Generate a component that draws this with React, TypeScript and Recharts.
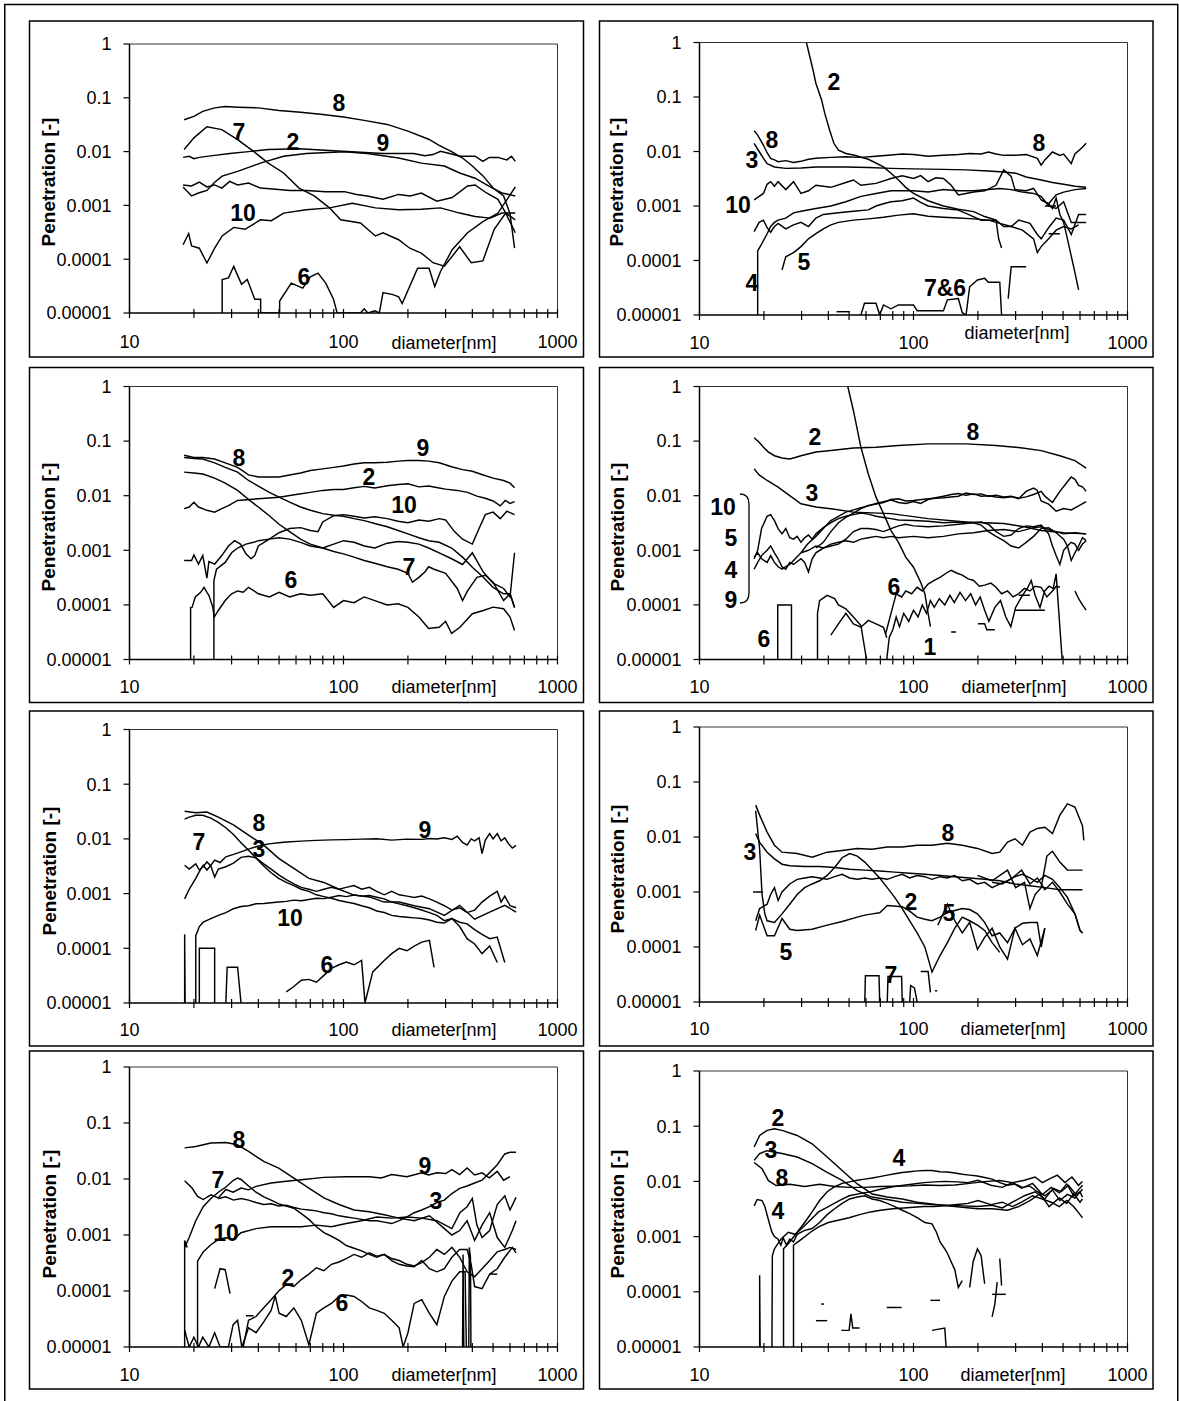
import React from 'react';
import { LineChart, Line, XAxis, YAxis, ReferenceLine } from 'recharts';

type Pair = [number, number];

/* ================= DATA: [diameter nm, penetration] ================= */
// ---------- Panel 1 (row 1, left) ----------
const P1_8: Pair[] = [[18,0.039],[20,0.045],[22,0.056],[25,0.065],[28,0.069],[32,0.067],[40,0.065],[50,0.058],[63,0.054],[80,0.049],[100,0.044],[125,0.038],[160,0.032],[200,0.024],[250,0.017],[280,0.013],[320,0.010],[360,0.0076],[400,0.0054],[450,0.0035],[500,0.0021],[560,0.0015],[600,0.0007],[630,0.00016]];
const P1_7: Pair[] = [[18,0.0109],[20,0.018],[23,0.029],[27,0.0256],[32,0.0167],[38,0.0101],[44.5,0.0061],[52.5,0.004],[62,0.0021],[73,0.0015],[86,0.0009],[97,0.00054],[120,0.00047],[141,0.00027],[153,0.00031],[181,0.00023],[204,0.00016],[231,0.00013],[262,0.000086],[296,0.000074],[349,0.00017],[395,0.000086],[448,0.000093],[506,0.00036],[573,0.00072],[635,0.00054]];
const P1_2: Pair[] = [[17.8,0.0078],[19,0.0082],[20,0.0074],[21.2,0.0078],[25,0.0085],[29.4,0.0092],[36,0.010],[44.5,0.0109],[62,0.0113],[86,0.0105],[120,0.0097],[153,0.0092],[213,0.0092],[240,0.0084],[262,0.0088],[284,0.0101],[320,0.0090],[349,0.0082],[412,0.0082],[448,0.0066],[480,0.0078],[527,0.0078],[580,0.0070],[610,0.0082],[635,0.0066]];
const P1_9: Pair[] = [[17.8,0.0022],[19.5,0.0015],[21,0.0017],[23,0.0019],[25,0.0027],[27.1,0.0035],[32,0.0043],[40.9,0.0061],[52.5,0.0082],[67,0.0092],[101,0.0099],[129,0.0092],[181,0.0076],[231,0.0061],[296,0.0054],[349,0.004],[412,0.0032],[485,0.0022],[550,0.0017],[635,0.0015]];
const P1_3: Pair[] = [[17.8,0.0024],[19.5,0.0023],[21.2,0.0027],[23,0.0022],[25,0.0024],[27,0.0021],[29.4,0.0028],[32,0.0024],[36,0.0026],[40.9,0.0021],[48.3,0.002],[56,0.0019],[67,0.0019],[82.6,0.0018],[101,0.0018],[115,0.0016],[129,0.0015],[153,0.0013],[181,0.0016],[205,0.0015],[231,0.0017],[273,0.0012],[322,0.0014],[380,0.0023],[412,0.0024],[466,0.0017],[527,0.0013],[573,0.00072],[635,0.00031]];
const P1_10: Pair[] = [[17.8,0.000186],[18.9,0.0003],[19.5,0.000176],[21.2,0.00016],[23,0.000085],[25,0.00016],[27.1,0.00027],[30.7,0.00039],[34.7,0.00036],[40.9,0.00054],[46,0.00052],[52.5,0.00072],[67,0.00083],[86,0.0009],[110,0.0011],[141,0.0009],[181,0.00083],[231,0.00085],[284,0.0009],[349,0.00072],[412,0.00062],[485,0.00058],[550,0.00072],[635,0.00072]];
const P1_6: Pair[] = [[27.1,0.00001],[27.1,0.000042],[29,0.000045],[30.7,0.000074],[32,0.00005],[33.4,0.000034],[35.5,0.000042],[38.5,0.000018],[41,0.000018],[41,0.00001],[50.3,0.00001],[50.3,0.0000167],[57,0.000036],[64.5,0.000029],[70,0.000047],[76,0.000055],[82.6,0.000036],[89.8,0.000018],[93.4,0.00001],[120,0.00001],[125,0.000012],[130,0.00001],[140,0.000011],[147,0.00001],[153,0.000024],[170,0.000022],[181,0.00002],[188,0.000015],[222,0.000068],[251,0.000068],[267,0.000031],[284,0.000059],[322,0.00015],[380,0.00031],[448,0.0005],[527,0.00072],[635,0.0022]];

// ---------- Panel 2 (row 1, right) ----------
const P2_2: Pair[] = [[31.6,1],[34,0.3],[35,0.177],[37.2,0.088],[38.5,0.05],[40.5,0.025],[42.5,0.014],[44.6,0.0106],[48.3,0.0092],[52.4,0.0086],[61.5,0.0072],[72.4,0.0052],[78.5,0.004],[85.1,0.003],[92,0.0022],[100,0.0017],[117,0.00125],[138,0.001],[162,0.00087],[191,0.00079],[215,0.00064],[243,0.00055],[250,0.00025],[258,0.00017]];
const P2_8: Pair[] = [[18,0.024],[18.7,0.02],[19.9,0.013],[20.7,0.0095],[21.5,0.0075],[22.4,0.007],[23.3,0.0065],[25.3,0.0068],[27.5,0.0063],[29.8,0.0066],[32.3,0.0072],[35,0.0075],[41.1,0.0078],[48.3,0.008],[56.8,0.0078],[66.8,0.0082],[78.5,0.0086],[88.5,0.009],[100,0.0088],[117,0.0082],[138,0.0085],[162,0.0088],[183,0.0092],[207,0.009],[224,0.0098],[243,0.009],[264,0.0085],[298,0.0085],[336,0.0088],[379,0.0075],[395,0.0056],[411,0.007],[446,0.0098],[483,0.0085],[503,0.009],[546,0.006],[568,0.009],[616,0.012],[641,0.0142]];
const P2_3: Pair[] = [[18,0.0141],[18.7,0.011],[19.9,0.0075],[20.7,0.006],[22.4,0.0052],[25.3,0.0049],[29.8,0.005],[35,0.0052],[48.3,0.0052],[61.5,0.0051],[78.5,0.0049],[100,0.0048],[138,0.0047],[176,0.0046],[224,0.0044],[264,0.0042],[300,0.004],[336,0.0034],[395,0.003],[446,0.0027],[503,0.0025],[568,0.0023],[641,0.0022]];
const P2_10: Pair[] = [[18,0.0013],[19.9,0.0017],[20.7,0.0025],[21.5,0.0028],[22.4,0.0023],[23.3,0.0028],[25.3,0.002],[27.5,0.0028],[29.8,0.0017],[32.3,0.0019],[35,0.0024],[41.1,0.0022],[48.3,0.0027],[52.4,0.003],[56.8,0.0024],[66.8,0.0026],[78.5,0.0032],[88.5,0.0036],[100,0.0032],[108,0.0036],[117,0.0028],[127,0.0033],[138,0.0032],[150,0.0024],[162,0.0016],[176,0.0017],[191,0.0018],[215,0.0019],[243,0.0024],[264,0.0046],[286,0.0035],[298,0.002],[336,0.0019],[364,0.0021],[395,0.0013],[428,0.0011],[464,0.0016],[503,0.0018],[568,0.002],[641,0.0021]];
const P2_D: Pair[] = [[18,0.00034],[19,0.0005],[19.9,0.00055],[20.7,0.0004],[21.5,0.00033],[22.4,0.00042],[23.3,0.00048],[25.3,0.00038],[27.5,0.00045],[29.8,0.0005],[32.3,0.00042],[35,0.0006],[37.9,0.0007],[44.6,0.00075],[52.4,0.0008],[61.5,0.00085],[66.8,0.001],[72.4,0.0011],[78.5,0.0012],[88.5,0.00125],[100,0.0014],[108,0.00116],[117,0.001],[138,0.0009],[162,0.00084],[176,0.00073],[207,0.00055],[224,0.00055],[243,0.00055],[264,0.00042],[286,0.00042],[310,0.00055],[350,0.00048],[379,0.0003],[395,0.00025],[428,0.0004],[464,0.0006],[503,0.00055],[546,0.0003],[591,0.0007],[641,0.0007]];
const P2_4: Pair[] = [[18.7,0.00001],[18.7,0.00015],[19.5,0.0002],[20.7,0.00031],[21.5,0.00042],[22.4,0.0005],[23.3,0.00055],[25.3,0.0006],[27.5,0.00075],[29.8,0.0008],[35,0.0009],[41.1,0.001],[48.3,0.0012],[56.8,0.0015],[66.8,0.0017],[78.5,0.0019],[100,0.0019],[117,0.0018],[138,0.002],[162,0.0019],[191,0.0019],[224,0.002],[253,0.0021],[286,0.002],[323,0.0018],[364,0.0017],[395,0.0015],[428,0.001],[464,0.0009],[503,0.0012],[546,0.0005],[591,0.0005],[641,0.0005]];
const P2_5: Pair[] = [[24.3,0.000067],[25.3,0.000117],[27.5,0.00014],[29.8,0.00018],[32.3,0.00025],[35,0.00031],[37.9,0.00038],[41.1,0.00045],[44.6,0.0005],[52.4,0.00055],[61.5,0.00058],[72.4,0.00062],[85.1,0.00068],[100,0.00072],[117,0.00065],[138,0.00062],[162,0.0006],[191,0.00058],[224,0.00055],[253,0.00048],[286,0.00042],[323,0.00036],[364,0.00025],[379,0.00014],[395,0.00018],[428,0.00025],[464,0.00036],[503,0.00042],[546,0.00038],[591,0.00045]];
const P2_E: Pair[] = [[395,0.0013],[428,0.0011],[446,0.0009],[464,0.0014],[483,0.0007],[503,0.0005],[524,0.00025],[546,0.00012],[568,0.00006],[591,0.000029]];
const P2_DASH1: Pair[] = [[428,0.00031],[483,0.00031]];
const P2_DASH2: Pair[] = [[411,0.001],[464,0.001]];
const P2_DASH3: Pair[] = [[43.7,0.0000115],[50.3,0.0000115]];
const P2_76: Pair[] = [[56.8,0.00001],[59,0.0000164],[66.8,0.0000164],[69.5,0.00001],[72.4,0.0000153],[78.5,0.000013],[85.1,0.0000153],[100,0.0000153],[104,0.000012],[138,0.000012],[144,0.000019],[162,0.00002],[169,0.000011],[176,0.00001],[183,0.000033],[199,0.000044],[215,0.000047],[224,0.00004],[253,0.00004],[258,0.00001]];
const P2_HOOK: Pair[] = [[277,0.00002],[286,0.000077],[336,0.000077]];

// ---------- Panel 3 (row 2, left) ----------
const P3_9: Pair[] = [[18,0.055],[20,0.05],[22,0.05],[25,0.047],[28,0.04],[32,0.033],[36,0.024],[40,0.022],[45,0.022],[50,0.022],[56,0.024],[63,0.026],[70,0.029],[80,0.031],[90,0.033],[100,0.035],[112,0.038],[125,0.04],[140,0.04],[160,0.041],[180,0.043],[200,0.044],[225,0.044],[250,0.043],[280,0.04],[320,0.034],[360,0.03],[400,0.028],[450,0.024],[500,0.021],[560,0.019],[600,0.017],[630,0.014]];
const P3_8: Pair[] = [[18,0.05],[20,0.048],[22,0.047],[25,0.04],[28,0.033],[32,0.027],[36,0.019],[40,0.015],[45,0.0115],[50,0.0094],[56,0.0076],[63,0.0062],[70,0.0054],[80,0.0047],[90,0.0044],[100,0.0042],[112,0.0038],[125,0.0035],[140,0.0031],[160,0.0027],[180,0.0023],[200,0.002],[225,0.0017],[250,0.0015],[280,0.0014],[320,0.0011],[360,0.00075],[400,0.00049],[450,0.00032],[500,0.00021],[560,0.00016],[600,0.00016],[630,0.00009]];
const P3_7: Pair[] = [[18,0.027],[20,0.026],[22,0.025],[25,0.021],[28,0.017],[32,0.0125],[36,0.0085],[40,0.0062],[45,0.0043],[50,0.003],[56,0.0022],[63,0.0016],[70,0.0013],[80,0.0011],[90,0.00095],[100,0.00086],[112,0.00075],[125,0.00065],[140,0.00058],[160,0.0005],[180,0.00045],[200,0.00038],[210,0.00026],[225,0.00032],[240,0.0004],[250,0.0005],[265,0.00045],[300,0.00038],[340,0.0002],[360,0.00012],[380,0.00018],[420,0.00032],[460,0.00035],[500,0.00026],[560,0.00012],[600,0.00016],[630,0.00009]];
const P3_2: Pair[] = [[18,0.0058],[19,0.0062],[20,0.0076],[21,0.0062],[23,0.0054],[25,0.005],[27,0.0058],[29,0.0066],[32,0.0082],[40,0.0088],[50,0.0094],[60,0.0105],[70,0.0115],[80,0.0125],[90,0.013],[100,0.013],[112,0.014],[125,0.0148],[140,0.0138],[160,0.0152],[180,0.016],[200,0.0165],[225,0.0145],[250,0.015],[280,0.0138],[300,0.0132],[340,0.0125],[380,0.0115],[420,0.0098],[460,0.009],[500,0.008],[540,0.0065],[570,0.0082],[600,0.0072],[630,0.0078]];
const P3_10: Pair[] = [[18,0.00065],[19.5,0.00065],[20,0.00082],[21,0.00056],[22,0.0008],[23,0.00031],[23.5,0.00062],[25,0.00056],[27,0.0008],[29,0.0012],[31,0.0015],[33,0.0013],[35,0.00086],[37,0.0007],[38.5,0.0008],[40,0.0012],[45,0.0016],[50,0.0021],[56,0.0025],[63,0.0026],[70,0.0023],[76,0.0022],[80,0.0033],[90,0.0043],[100,0.0045],[112,0.0042],[125,0.0039],[140,0.0041],[160,0.0038],[180,0.0034],[200,0.0032],[225,0.0036],[250,0.0034],[280,0.0038],[300,0.0036],[330,0.0022],[360,0.0016],[400,0.0013],[430,0.0025],[460,0.0045],[500,0.005],[540,0.0038],[580,0.0052],[630,0.0045]];
const P3_X: Pair[] = [[24.8,0.00001],[24.8,0.00028],[25.5,0.00045],[28,0.0006],[30,0.0009],[32,0.0011],[35,0.0013],[38,0.0014],[40,0.0015],[45,0.0016],[50,0.0017],[56,0.0016],[63,0.0014],[70,0.0012],[80,0.0011],[90,0.0013],[100,0.0015],[112,0.0014],[125,0.0012],[140,0.0011],[160,0.00135],[180,0.00145],[200,0.0014],[225,0.0013],[250,0.0011],[280,0.0009],[320,0.0007],[360,0.00055],[400,0.0009],[450,0.0004],[500,0.00025],[560,0.0002],[600,0.00014],[630,0.0009]];
const P3_6: Pair[] = [[19.3,0.00001],[19.3,0.00009],[19.6,0.00009],[20.3,0.00014],[21.5,0.00017],[22.3,0.00021],[23,0.00017],[23.5,0.00015],[24.5,0.00009],[24.9,0.00006],[26,0.000079],[28,0.00012],[30,0.00016],[32,0.00018],[34,0.00017],[36,0.00021],[40,0.00016],[45,0.00014],[50,0.00017],[56,0.00014],[63,0.00016],[70,0.00015],[80,0.00016],[90,0.00009],[100,0.00012],[112,0.00011],[125,0.00014],[140,0.00012],[160,0.0001],[180,0.000105],[200,0.00009],[225,0.00006],[250,0.000037],[280,0.000039],[300,0.00005],[320,0.00003],[350,0.000039],[400,0.000069],[450,0.000079],[500,0.000091],[560,0.000085],[600,0.00006],[630,0.000034]];

// ---------- Panel 4 (row 2, right) ----------
const P4_28: Pair[] = [[18,0.115],[19,0.095],[19.9,0.077],[21,0.063],[22.4,0.054],[24.3,0.049],[26.4,0.047],[28,0.05],[29.8,0.054],[35,0.063],[41.1,0.067],[52.4,0.075],[66.8,0.077],[85.1,0.083],[117,0.089],[176,0.089],[243,0.083],[323,0.075],[395,0.067],[483,0.054],[568,0.044],[641,0.032]];
const P4_STEEP: Pair[] = [[49.3,1],[52.4,0.36],[56.8,0.077],[61.5,0.025],[66.8,0.0094],[72.4,0.0047],[78.5,0.0023],[85.1,0.0014],[92,0.00075],[100,0.00049],[108,0.00026],[113,0.00016],[117,0.00007],[120,0.00004]];
const P4_3: Pair[] = [[18,0.031],[19,0.024],[20.7,0.019],[23.3,0.0144],[26.4,0.01],[29.8,0.0071],[35,0.0062],[42,0.0057],[52.4,0.005],[78.5,0.0047],[117,0.0038],[176,0.0033],[264,0.0031],[330,0.0027],[395,0.0023],[503,0.0021],[641,0.002]];
const P4_A: Pair[] = [[29.8,0.0009],[32,0.0013],[35,0.0018],[37.9,0.0025],[41.1,0.0035],[44.6,0.0042],[48.3,0.005],[52.4,0.0055],[56.8,0.006],[61.5,0.0065],[66.8,0.0072],[72.4,0.0078],[78.5,0.0083],[85.1,0.0075],[92,0.0072],[100,0.0078],[108,0.0072],[117,0.0085],[127,0.0092],[138,0.0098],[150,0.0105],[162,0.011],[176,0.0102],[191,0.0108],[207,0.0098],[224,0.01],[243,0.0095],[264,0.0092],[286,0.0096],[310,0.0088],[336,0.012],[364,0.0138],[379,0.0125],[395,0.008],[428,0.007],[464,0.0052],[503,0.0058],[546,0.0055],[591,0.0065],[641,0.0078]];
const P4_B: Pair[] = [[35,0.0011],[37.9,0.0014],[41.1,0.0022],[44.6,0.0032],[48.3,0.004],[52.4,0.0048],[56.8,0.0058],[61.5,0.0066],[66.8,0.007],[72.4,0.0075],[78.5,0.0085],[85.1,0.0088],[92,0.008],[100,0.0082],[117,0.0088],[138,0.0092],[162,0.0098],[176,0.0112],[191,0.0105],[207,0.0108],[224,0.0098],[243,0.0102],[264,0.0095],[286,0.0098],[310,0.009],[336,0.0095],[364,0.0105],[395,0.012],[411,0.0098],[446,0.0075],[483,0.012],[524,0.018],[546,0.022],[568,0.02],[591,0.0155],[616,0.0145],[641,0.012]];
const P4_C: Pair[] = [[18,0.0007],[18.7,0.001],[19.5,0.0025],[20.7,0.0042],[21.5,0.0045],[22.4,0.0035],[23.3,0.0025],[24.3,0.002],[25.3,0.0025],[26.4,0.0017],[27.5,0.0016],[28.6,0.0018],[29.8,0.0014],[31,0.0017],[32.3,0.0019],[33.6,0.0016],[35,0.002],[37.9,0.0026],[41.1,0.0032],[44.6,0.0038],[48.3,0.0042],[52.4,0.0045],[56.8,0.0048],[61.5,0.0046],[66.8,0.0042],[72.4,0.004],[78.5,0.0038],[85.1,0.0036],[100,0.0035],[117,0.0034],[138,0.0032],[162,0.0033],[191,0.0032],[207,0.0029],[224,0.0022],[243,0.0018],[264,0.0015],[286,0.0012],[310,0.0011],[336,0.0014],[364,0.0018],[395,0.0025],[428,0.0026],[464,0.0021],[503,0.0016],[524,0.0012],[546,0.00065],[568,0.0009],[591,0.0012],[616,0.0017],[641,0.0015]];
const P4_D: Pair[] = [[18,0.00045],[18.7,0.0006],[19.5,0.0008],[20.7,0.001],[21.5,0.0012],[22.4,0.0009],[23.3,0.0007],[24.3,0.0005],[25.3,0.00045],[26.4,0.0006],[27.5,0.00055],[29.8,0.0007],[31,0.0006],[32.3,0.0004],[33.6,0.0007],[35,0.0009],[37.9,0.0011],[41.1,0.0012],[44.6,0.0013],[48.3,0.0016],[52.4,0.0022],[56.8,0.0025],[61.5,0.0025],[66.8,0.0024],[72.4,0.0022],[78.5,0.0025],[85.1,0.0028],[92,0.003],[100,0.0028],[117,0.0027],[138,0.0028],[162,0.003],[191,0.0032],[207,0.0033],[224,0.003],[243,0.0022],[264,0.0018],[286,0.0019],[310,0.0025],[336,0.0028],[364,0.0027],[395,0.0029],[428,0.002],[446,0.0012],[464,0.0008],[483,0.00055],[503,0.001],[524,0.0012],[546,0.0014],[568,0.0013],[591,0.001],[616,0.0013],[641,0.0015]];
const P4_E: Pair[] = [[18,0.00075],[18.7,0.0009],[19.5,0.0007],[20.7,0.0006],[21.5,0.0008],[22.4,0.0006],[23.3,0.0005],[24.3,0.00045],[25.3,0.0005],[26.4,0.00055],[27.5,0.00065],[29.8,0.0009],[32.3,0.001],[35,0.0012],[37.9,0.0011],[41.1,0.0013],[44.6,0.0014],[48.3,0.0015],[52.4,0.0014],[56.8,0.0016],[61.5,0.0017],[66.8,0.0018],[72.4,0.0017],[78.5,0.0018],[85.1,0.0017],[100,0.0018],[117,0.0017],[138,0.0018],[162,0.002],[191,0.0021],[224,0.0023],[264,0.0024],[310,0.0022],[364,0.0026],[395,0.0027],[428,0.0024],[464,0.0022],[503,0.002],[568,0.0021],[641,0.002]];
const P4_RECT: Pair[] = [[23.2,0.00001],[23.2,0.0001],[26.9,0.0001],[26.9,0.00001]];
const P4_LB: Pair[] = [[35.6,0.00001],[35.6,0.00007],[36.4,0.00012],[39.5,0.00015],[42.8,0.00013],[44.6,0.0001],[48.3,0.000085],[52.4,0.00006],[56.8,0.000042],[60.3,0.00001]];
const P4_LC: Pair[] = [[41.1,0.000028],[44.6,0.000045],[48.3,0.00007],[52.4,0.000045],[56.8,0.000039],[61.5,0.000052],[66.8,0.000045],[72.4,0.000039],[75,0.000025]];
const P4_6: Pair[] = [[74,0.000029],[78.5,0.00007],[83,0.00016],[88,0.00014],[92,0.00018],[98,0.00016],[104,0.00021],[110,0.00018],[117,0.00024],[125,0.00028],[133,0.00032],[142,0.00038],[150,0.00043],[160,0.00038],[169,0.00035],[180,0.0003],[191,0.00028],[203,0.00022],[215,0.00023],[230,0.00025],[243,0.00021],[258,0.00016],[275,0.00018],[292,0.00014],[310,0.00016],[330,0.0002],[350,0.00018],[370,0.00022],[395,0.00021],[420,0.00014],[446,0.00018],[465,0.00022],[483,0.00021]];
const P4_1: Pair[] = [[75,0.00001],[77,0.000025],[80,0.000035],[83,0.00006],[86,0.00004],[90,0.00007],[95,0.00005],[100,0.00008],[105,0.00006],[110,0.0001],[115,0.00007],[120,0.00012],[125,0.00009],[132,0.00013],[140,0.0001],[148,0.00015],[155,0.00011],[165,0.00017],[175,0.00012],[185,0.00016],[195,0.0001],[205,0.00014],[215,0.00008],[225,0.00005],[240,0.00009],[255,0.00012],[270,0.00006],[285,0.00004],[300,0.00009],[320,0.00014],[340,0.0002],[355,0.00028],[370,0.00015],[390,0.00009],[410,0.00018],[430,0.00022],[450,0.0002],[464,0.00037],[495,0.00001]];
const P4_DASH1: Pair[] = [[310,0.00015],[350,0.00015]];
const P4_DASH2: Pair[] = [[298,0.00008],[411,0.00008]];
const P4_DASH3: Pair[] = [[200,0.000045],[215,0.000045],[220,0.000035],[240,0.000035]];
const P4_DASH4: Pair[] = [[150,0.000032],[158,0.000032]];
const P4_TAIL: Pair[] = [[568,0.00018],[591,0.00013],[616,0.0001],[641,0.00008]];

// ---------- Panel 5 (row 3, left) ----------
const P5_8: Pair[] = [[18.1,0.032],[20.4,0.03],[23,0.031],[26,0.025],[30.6,0.018],[36,0.0117],[42.4,0.0077],[49.8,0.0044],[58.6,0.0029],[68.9,0.0019],[81,0.0016],[95.3,0.0012],[112,0.00094],[132,0.00087],[155,0.0007],[182,0.0007],[214,0.0006],[252,0.00053],[296,0.0004],[349,0.00061],[410,0.00034],[482,0.00046],[567,0.00061],[640,0.00046]];
const P5_7: Pair[] = [[18.1,0.023],[19,0.025],[20.4,0.027],[22,0.027],[24,0.024],[26,0.02],[28.2,0.016],[30.6,0.012],[33.2,0.0085],[36,0.0062],[39,0.0045],[42.4,0.0032],[45.9,0.0024],[49.8,0.0019],[54,0.0016],[58.6,0.0014],[63.5,0.0012],[68.9,0.0011],[74.7,0.00095],[81,0.00088],[87.8,0.00082],[95.3,0.00075],[103,0.0007],[112,0.00066],[121.5,0.0006],[132,0.00055],[143,0.00048],[155,0.00045],[168,0.0004],[182,0.00038],[198,0.00037],[214,0.00036],[232,0.00035],[252,0.00033],[273,0.0003],[296,0.00029],[321,0.00035],[349,0.00025],[378,0.00015],[410,0.00012],[444,0.00008],[482,0.00011],[523,0.000055]];
const P5_9: Pair[] = [[18.1,0.0008],[19,0.0012],[20.4,0.0019],[21.5,0.0028],[22.1,0.0033],[23,0.0027],[24,0.0033],[25,0.0041],[26.5,0.0037],[28.2,0.0047],[30.6,0.0052],[33.2,0.0058],[36,0.0065],[39,0.0072],[42.4,0.0078],[45.9,0.0082],[49.8,0.0085],[54,0.0088],[63.5,0.0091],[74.7,0.0094],[87.8,0.0096],[103,0.0097],[121.5,0.0099],[143,0.0101],[168,0.0095],[198,0.0099],[232,0.0098],[252,0.0102],[273,0.01],[296,0.0105],[321,0.0098],[340,0.0112],[360,0.0086],[378,0.0077],[395,0.01],[410,0.0092],[430,0.0105],[444,0.0054],[460,0.0095],[482,0.0125],[500,0.01],[523,0.0125],[545,0.0092],[567,0.0105],[590,0.0082],[615,0.0068],[640,0.0076]];
const P5_3: Pair[] = [[18.1,0.0033],[19,0.0028],[20.4,0.0035],[21.2,0.0027],[22.1,0.0031],[23,0.0038],[24,0.0032],[25,0.002],[26,0.0028],[28.2,0.0031],[30.6,0.0036],[33.2,0.0046],[36,0.0048],[39,0.0045],[42.4,0.0035],[45.9,0.0028],[49.8,0.0022],[54,0.0018],[58.6,0.0015],[63.5,0.0013],[68.9,0.0012],[74.7,0.0011],[81,0.0012],[87.8,0.0013],[95.3,0.0012],[103,0.0013],[112,0.0014],[121.5,0.0012],[132,0.0013],[143,0.0011],[155,0.00095],[168,0.0011],[182,0.00095],[198,0.0009],[214,0.00085],[232,0.0009],[252,0.0008],[273,0.0007],[296,0.0006],[321,0.0005],[349,0.00055],[378,0.00045],[410,0.0005],[444,0.0007],[482,0.0009],[523,0.0011],[545,0.0007],[567,0.0009],[600,0.0006],[640,0.00055]];
const P5_10: Pair[] = [[20.4,0.00001],[20.4,0.00017],[21.2,0.00025],[22.1,0.0003],[24,0.00035],[26,0.0004],[28.2,0.00045],[30.6,0.00053],[33.2,0.00058],[36,0.0006],[39,0.00065],[42.4,0.00066],[45.9,0.00068],[49.8,0.0007],[54,0.00072],[58.6,0.00076],[63.5,0.00074],[68.9,0.00078],[74.7,0.00082],[81,0.00081],[87.8,0.00086],[95.3,0.00092],[103,0.00088],[112,0.00094],[121.5,0.0009],[132,0.00092],[143,0.00086],[155,0.0008],[168,0.0007],[182,0.00065],[198,0.0006],[214,0.00055],[232,0.0005],[252,0.00045],[273,0.0004],[296,0.00032],[321,0.00035],[349,0.0003],[378,0.00028],[410,0.00022],[444,0.00018],[482,0.00015],[523,0.00016],[567,0.000055]];
const P5_SPIKE: Pair[] = [[18.1,0.00001],[18.1,0.00018],[18.2,0.00001]];
const P5_RECT: Pair[] = [[21.2,0.00001],[21.2,0.0001],[25,0.0001],[25,0.00001]];
const P5_HUMP: Pair[] = [[28.2,0.00001],[28.6,0.000045],[32,0.000045],[33.2,0.00001]];
const P5_6: Pair[] = [[54,0.000016],[58.6,0.00002],[63.5,0.000026],[68.9,0.000027],[74.7,0.000024],[81,0.000032],[87.8,0.000043],[95.3,0.00005],[103,0.000056],[112,0.00005],[121.5,0.00006],[126,0.00001],[137,0.000037],[155,0.00006],[168,0.00008],[182,0.0001],[198,0.00009],[214,0.00011],[232,0.00013],[252,0.00014],[265,0.000045]];

// ---------- Panel 6 (row 3, right) ----------
const P6_8: Pair[] = [[18.3,0.038],[19.1,0.025],[20.7,0.0123],[22.4,0.0071],[24.3,0.0053],[28.6,0.005],[33.6,0.0043],[39.5,0.0053],[46.4,0.0057],[54.6,0.0062],[64.1,0.006],[75.4,0.0066],[88.6,0.0066],[104,0.0071],[122,0.0071],[144,0.0077],[169,0.0071],[199,0.0062],[233,0.005],[253,0.0053],[275,0.0081],[298,0.0093],[323,0.0071],[350,0.0123],[379,0.0143],[411,0.015],[446,0.0115],[483,0.025],[524,0.04],[568,0.035],[616,0.016],[625,0.0087]];
const P6_3: Pair[] = [[18.3,0.0115],[19.1,0.008],[20.7,0.0053],[22.4,0.004],[24.3,0.0032],[26.4,0.003],[31,0.0029],[36.4,0.0029],[42.8,0.0028],[50.3,0.0026],[59.2,0.0025],[69.5,0.0024],[81.7,0.0023],[96,0.0022],[113,0.0021],[133,0.002],[156,0.0019],[183,0.0018],[215,0.0017],[253,0.0016],[298,0.0014],[350,0.0013],[411,0.0012],[483,0.0011],[568,0.0011],[616,0.0011]];
const P6_2: Pair[] = [[18.3,0.03],[19.1,0.006],[19.6,0.0009],[20.2,0.0004],[20.7,0.0003],[22.4,0.00028],[24.3,0.0004],[26.4,0.0006],[28.6,0.0009],[31,0.0012],[33.6,0.0014],[36.4,0.0016],[39.5,0.002],[42.8,0.0028],[46.4,0.0042],[50.3,0.005],[54.6,0.0045],[59.2,0.0035],[64.1,0.0025],[69.5,0.0018],[75.4,0.0012],[81.7,0.0008],[88.6,0.0005],[96,0.0003],[104,0.00018],[113,0.0001],[122,0.000035],[133,0.00007],[144,0.00012],[156,0.00022],[169,0.00035],[183,0.0003],[199,0.00025],[215,0.0002],[233,0.00012],[253,0.00008]];
const P6_5A: Pair[] = [[18.3,0.0003],[19.1,0.0005],[20.7,0.0006],[21.5,0.0009],[22.4,0.0012],[23.3,0.0007],[24.3,0.001],[26.4,0.0014],[28.6,0.0017],[31,0.0018],[33.6,0.0019],[36.4,0.0018],[39.5,0.0017],[42.8,0.0019],[46.4,0.0021],[50.3,0.0018],[54.6,0.0017],[59.2,0.0018],[64.1,0.0017],[69.5,0.0018],[75.4,0.0017],[81.7,0.0019],[88.6,0.0021],[96,0.0018],[104,0.002],[113,0.0019],[122,0.0017],[133,0.0019],[144,0.0018],[156,0.002],[169,0.0016],[183,0.0017],[199,0.0014],[215,0.0015],[233,0.0012],[253,0.0014],[275,0.0016],[298,0.0019],[323,0.0021],[350,0.0018],[379,0.0015],[411,0.002],[446,0.0017],[483,0.0012],[524,0.0008],[568,0.0004],[600,0.0002],[616,0.00018]];
const P6_5B: Pair[] = [[18.3,0.0002],[19.1,0.00038],[20.7,0.00016],[22.4,0.00016],[24.3,0.00033],[26.4,0.00021],[28.6,0.0002],[33.6,0.00021],[39.5,0.00025],[46.4,0.00029],[54.6,0.00035],[59.2,0.00038],[64.1,0.0004],[69.5,0.00042],[75.4,0.00057],[88.6,0.00054],[96,0.00045],[104,0.00035],[113,0.00032],[122,0.0003],[133,0.00035],[144,0.00042],[156,0.00046],[169,0.0005],[183,0.00048],[199,0.0004],[215,0.00028],[233,0.00016],[253,0.00018],[275,0.00012],[298,0.00022],[323,0.00027],[350,0.00028],[379,0.00028],[395,0.0001],[411,0.00022]];
const P6_T1: Pair[] = [[199,0.002],[233,0.0016],[275,0.0025],[300,0.0012],[330,0.0015],[350,0.0005],[370,0.0009],[395,0.0012],[420,0.0045],[446,0.0055],[483,0.0035],[524,0.0025],[568,0.0025],[616,0.0025]];
const P6_T2: Pair[] = [[233,0.0015],[260,0.0014],[290,0.0018],[320,0.0025],[350,0.0014],[379,0.0018],[411,0.0011],[446,0.0015],[483,0.001],[524,0.0006],[568,0.0004],[600,0.0002],[616,0.00018]];
const P6_T3: Pair[] = [[130,0.00025],[144,0.0006],[156,0.0003],[169,0.00018],[183,0.00028],[199,0.00009],[215,0.00015],[233,0.00022],[253,0.0001],[275,0.00006],[298,0.00022],[323,0.00011],[350,0.00014],[379,0.00007],[411,0.00022]];
const P6_DASH: Pair[] = [[17.8,0.001],[19.8,0.001]];
const P6_7A: Pair[] = [[59.2,0.00001],[59.6,0.00003],[69,0.00003],[69.5,0.00001]];
const P6_7B: Pair[] = [[75.4,0.00001],[76,0.000029],[88,0.000029],[88.6,0.00001]];
const P6_7C: Pair[] = [[96,0.00001],[97,0.00002],[101,0.000018],[104,0.00001]];
const P6_7D: Pair[] = [[108,0.000036],[117,0.000036],[120,0.000015]];
const P6_7E: Pair[] = [[126,0.000016],[129,0.000016]];

// ---------- Panel 7 (row 4, left) ----------
const P7_8: Pair[] = [[18.1,0.036],[20.4,0.038],[24,0.044],[28.2,0.045],[31.9,0.041],[36,0.031],[42.4,0.0206],[49.8,0.0157],[58.6,0.0104],[68.9,0.0069],[81,0.0046],[95.3,0.0035],[112,0.0028],[132,0.0026],[155,0.0023],[182,0.002],[214,0.0018],[252,0.0022],[296,0.0013],[321,0.001],[349,0.0012],[378,0.0018],[410,0.0008],[444,0.0015],[482,0.0025],[523,0.0009],[567,0.0006],[615,0.0012],[640,0.0018]];
const P7_9: Pair[] = [[18.1,0.0093],[19.6,0.0069],[20.8,0.0049],[22.1,0.0043],[24,0.0052],[26,0.0046],[28.2,0.0065],[30.5,0.0058],[33.2,0.0069],[36,0.0064],[39,0.0074],[45.9,0.0085],[54,0.0091],[63.5,0.0097],[81,0.0107],[103,0.011],[132,0.011],[150,0.0104],[168,0.012],[198,0.011],[232,0.0129],[250,0.0118],[273,0.0129],[300,0.0125],[321,0.0147],[349,0.012],[378,0.0157],[410,0.0118],[444,0.0129],[480,0.0105],[523,0.0137],[560,0.0095],[600,0.011]];
const P7_7: Pair[] = [[18.1,0.0006],[19,0.0009],[20.4,0.0018],[22.1,0.0032],[24,0.0045],[26,0.0058],[28.2,0.0072],[30.6,0.0095],[32,0.0104],[33.2,0.0098],[36,0.0075],[39,0.0058],[42.4,0.0048],[45.9,0.0042],[49.8,0.0036],[54,0.0033],[58.6,0.003],[63.5,0.0024],[68.9,0.0019],[74.7,0.0014],[81,0.0011],[87.8,0.00095],[95.3,0.0008],[103,0.00065],[112,0.00058],[121.5,0.00052],[132,0.00045],[143,0.0004],[155,0.00045],[168,0.00035],[182,0.0003],[198,0.00028],[214,0.00027],[232,0.00035],[252,0.00025],[273,0.00022],[296,0.00025],[321,0.0004],[349,0.00055],[378,0.00055],[395,0.0003],[410,0.00012],[444,0.00011],[482,0.0002],[523,0.00025],[567,0.0004],[615,0.0006],[640,0.00048]];
const P7_10: Pair[] = [[20.8,0.00001],[20.8,0.00034],[22.1,0.0005],[24,0.00067],[26,0.00083],[28.2,0.00089],[30.6,0.00083],[33.2,0.0011],[39,0.0013],[45.9,0.0014],[54,0.0014],[63.5,0.0014],[74.7,0.0015],[87.8,0.0014],[103,0.0016],[121.5,0.0018],[143,0.0021],[168,0.002],[198,0.0021],[232,0.002],[273,0.0018],[321,0.0013],[350,0.0025],[378,0.0032],[400,0.0045],[420,0.0015],[444,0.0009],[482,0.0012],[523,0.0035],[567,0.005],[600,0.0028],[640,0.0047]];
const P7_3: Pair[] = [[26,0.0045],[28.2,0.0048],[30.6,0.0042],[33.2,0.0045],[36,0.0042],[39,0.0038],[42.4,0.0035],[45.9,0.0036],[49.8,0.0033],[54,0.0034],[58.6,0.0031],[63.5,0.0029],[68.9,0.0028],[74.7,0.0027],[81,0.0025],[87.8,0.0024],[95.3,0.0022],[103,0.0021],[112,0.002],[121.5,0.0019],[132,0.0018],[143,0.0018],[155,0.0017],[168,0.0016],[182,0.0018],[198,0.0021],[214,0.0025],[232,0.0028],[252,0.0032],[273,0.0038],[296,0.0042],[321,0.0055],[349,0.0068],[378,0.0075],[410,0.0085],[444,0.0095],[482,0.013],[523,0.018],[567,0.028],[600,0.03],[640,0.03]];
const P7_2: Pair[] = [[34,0.00001],[36,0.00003],[39,0.000035],[42.4,0.00005],[45.9,0.00007],[49.8,0.0001],[54,0.00013],[58.6,0.00012],[63.5,0.00016],[68.9,0.0002],[74.7,0.00026],[81,0.00023],[87.8,0.0003],[95.3,0.00033],[103,0.00038],[112,0.00045],[121.5,0.0004],[132,0.00048],[143,0.00042],[155,0.00045],[168,0.00038],[182,0.00035],[198,0.0003],[214,0.00028],[232,0.00032],[252,0.0004],[273,0.00055],[296,0.00045],[321,0.0006],[349,0.0004],[378,0.00022],[410,0.00018],[444,0.00025],[482,0.00035],[523,0.0005],[567,0.00055],[600,0.0006],[640,0.00055]];
const P7_6: Pair[] = [[18.1,0.00002],[19,0.00001],[20,0.000015],[21,0.00001],[22,0.000015],[23.5,0.00001],[25,0.000018],[26.5,0.00001],[29,0.00001],[30.5,0.000025],[32,0.00003],[33.5,0.00001],[36,0.000022],[39,0.000018],[42.4,0.000028],[45.9,0.000045],[48,0.000082],[50,0.00004],[54,0.000035],[58.6,0.00005],[63.5,0.00003],[68.9,0.000011],[74.7,0.00004],[81,0.00005],[87.8,0.00006],[95.3,0.00008],[103,0.000085],[112,0.00008],[121.5,0.000065],[132,0.00005],[143,0.000045],[155,0.00004],[168,0.00003],[182,0.000022],[190,0.00001],[200,0.000018],[214,0.00006],[232,0.00007],[252,0.00004],[273,0.000025],[296,0.00008],[321,0.00015],[349,0.00022],[370,0.00022],[375,0.00001]];
const P7_V1: Pair[] = [[18.1,0.00001],[18.1,0.0008],[18.6,0.0006]];
const P7_V2: Pair[] = [[360,0.00001],[362,0.00045],[365,0.00001]];
const P7_V3: Pair[] = [[385,0.00001],[387,0.0006],[392,0.0004],[394,0.00001]];
const P7_H: Pair[] = [[25,0.00011],[26.5,0.00025],[28,0.00024],[29.5,0.00009]];
const P7_DASH1: Pair[] = [[35,0.000036],[38,0.000036]];
const P7_DASH2: Pair[] = [[482,0.0002],[523,0.0002]];

// ---------- Panel 8 (row 4, right) ----------
const P8_2: Pair[] = [[18,0.042],[19.1,0.068],[20.7,0.084],[22.4,0.09],[24.3,0.084],[28.6,0.068],[33.6,0.048],[39.5,0.0276],[46.4,0.0158],[50.3,0.0119],[54.6,0.009],[59.2,0.0073],[64.1,0.0059],[75.4,0.0052],[88.6,0.0048],[104,0.0042],[122,0.0039],[144,0.0036],[169,0.0034],[199,0.0032],[233,0.0032],[275,0.003],[310,0.0035],[350,0.0045],[390,0.006],[430,0.0035],[480,0.005],[520,0.004],[560,0.006],[600,0.0042],[616,0.0048]];
const P8_3: Pair[] = [[18,0.024],[19.1,0.032],[20.7,0.036],[24.3,0.032],[28.6,0.0276],[33.6,0.021],[39.5,0.0146],[46.4,0.0104],[54.6,0.0068],[64.1,0.0052],[75.4,0.0047],[88.6,0.0042],[104,0.004],[122,0.0038],[144,0.0037],[169,0.0036],[199,0.0035],[233,0.0037],[260,0.0033],[290,0.0042],[330,0.0055],[370,0.0065],[410,0.0048],[450,0.0075],[490,0.0065],[530,0.0085],[570,0.006],[616,0.0085]];
const P8_8: Pair[] = [[18,0.022],[19.6,0.017],[21,0.0103],[22.8,0.0084],[26.4,0.0089],[31,0.0081],[36.4,0.0089],[42.8,0.0081],[50.3,0.0078],[59.2,0.0078],[69.5,0.0081],[81.7,0.0082],[96,0.0083],[113,0.0086],[133,0.0084],[156,0.0086],[183,0.0092],[215,0.0099],[253,0.0104],[290,0.0095],[330,0.0105],[370,0.012],[400,0.0095],[430,0.011],[470,0.013],[510,0.0095],[550,0.012],[590,0.0085],[616,0.01]];
const P8_4UP: Pair[] = [[24.7,0.00001],[24.7,0.0006],[26.4,0.0008],[28.6,0.0012],[31,0.0018],[33.6,0.0028],[36.4,0.0045],[39.5,0.0065],[42.8,0.008],[46.4,0.0092],[50.3,0.0098],[54.6,0.0105],[59.2,0.011],[64.1,0.0115],[69.5,0.0122],[75.4,0.013],[81.7,0.0138],[88.6,0.0145],[96,0.015],[104,0.0155],[113,0.0158],[122,0.0157],[133,0.015],[144,0.0148],[156,0.0142],[169,0.0135],[183,0.013],[199,0.0125],[215,0.0118],[233,0.011],[253,0.0095],[275,0.0085],[298,0.009],[323,0.0078],[350,0.0082],[379,0.0065],[411,0.0055],[446,0.007],[483,0.0045],[524,0.0058],[568,0.005],[616,0.0072]];
const P8_4LOW: Pair[] = [[18,0.0036],[18.6,0.0047],[19.6,0.0045],[20.2,0.0035],[21,0.002],[21.8,0.0012],[22.4,0.001],[23.3,0.0009],[24,0.0007],[24.6,0.00095],[25.5,0.0007],[26.4,0.0009],[27.5,0.0008],[28.6,0.0011],[31,0.0013],[33.6,0.0014],[36.4,0.0018],[39.5,0.0025],[42.8,0.0032],[46.4,0.004],[50.3,0.0048],[54.6,0.0052],[59.2,0.0055],[64.1,0.0048],[69.5,0.0045],[75.4,0.004],[81.7,0.0035],[88.6,0.003],[96,0.0026],[104,0.0022],[113,0.0018],[122,0.0017],[128,0.0012],[133,0.0008],[140,0.0006],[144,0.0005],[150,0.00035],[156,0.00025],[162,0.00012],[169,0.00016]];
const P8_R1: Pair[] = [[21.8,0.00001],[21.9,0.00045],[22.4,0.0006],[24,0.0009],[26,0.0012],[28,0.0011],[30,0.0014],[33,0.002],[36,0.0028],[40,0.0035],[45,0.0045],[50,0.0055],[56,0.006],[63,0.0065],[70,0.0072],[80,0.008],[90,0.0085],[100,0.009],[112,0.0095],[125,0.0098],[140,0.01],[160,0.0098],[180,0.0095],[200,0.0105],[230,0.0085],[260,0.0078],[290,0.0095],[320,0.0075],[360,0.0092],[400,0.0058],[440,0.0078],[480,0.0062],[520,0.009],[560,0.0055],[600,0.0065],[616,0.0052]];
const P8_R2: Pair[] = [[27.5,0.00001],[27.5,0.0007],[30,0.0009],[33,0.0012],[36,0.0015],[40,0.0018],[45,0.002],[50,0.0022],[56,0.0025],[63,0.0028],[70,0.003],[80,0.0032],[90,0.0033],[100,0.0034],[112,0.0035],[125,0.0035],[140,0.0036],[160,0.0038],[180,0.004],[200,0.0045],[230,0.0038],[260,0.0042],[290,0.0035],[320,0.0042],[360,0.0055],[400,0.0048],[440,0.0042],[480,0.0035],[520,0.0045],[560,0.0035],[600,0.0025],[616,0.0022]];
const P8_V1: Pair[] = [[19.1,0.00001],[19.1,0.0002],[19.2,0.00001]];
const P8_H1: Pair[] = [[183,0.00012],[190,0.00035],[199,0.0006],[207,0.00045],[215,0.00014]];
const P8_H2: Pair[] = [[253,0.0004],[258,0.00013]];
const P8_H3: Pair[] = [[233,0.000035],[240,0.00006],[246,0.00015]];
const P8_D1: Pair[] = [[35,0.00003],[39.5,0.00003]];
const P8_D2: Pair[] = [[37,0.00006],[38.2,0.00006]];
const P8_D3: Pair[] = [[46,0.00002],[50,0.00002],[51,0.00004],[52,0.000022],[56,0.000022]];
const P8_D4: Pair[] = [[75,0.000052],[88,0.000052]];
const P8_D5: Pair[] = [[120,0.00007],[133,0.00007]];
const P8_D6: Pair[] = [[122,0.00002],[140,0.000022],[142,0.00001]];
const P8_D7: Pair[] = [[233,0.00009],[270,0.00009]];

const CURVES: Pair[][][] = [
  [P1_8, P1_7, P1_2, P1_9, P1_3, P1_10, P1_6],
  [P2_2, P2_8, P2_3, P2_10, P2_D, P2_4, P2_5, P2_E, P2_DASH1, P2_DASH2, P2_DASH3, P2_76, P2_HOOK],
  [P3_9, P3_8, P3_7, P3_2, P3_10, P3_X, P3_6],
  [P4_28, P4_STEEP, P4_3, P4_A, P4_B, P4_C, P4_D, P4_E, P4_RECT, P4_LB, P4_LC, P4_6, P4_1, P4_DASH1, P4_DASH2, P4_DASH3, P4_DASH4, P4_TAIL],
  [P5_8, P5_7, P5_9, P5_3, P5_10, P5_SPIKE, P5_RECT, P5_HUMP, P5_6],
  [P6_8, P6_3, P6_2, P6_5A, P6_5B, P6_T1, P6_T2, P6_T3, P6_DASH, P6_7A, P6_7B, P6_7C, P6_7D, P6_7E],
  [P7_8, P7_9, P7_7, P7_10, P7_3, P7_2, P7_6, P7_V1, P7_V2, P7_V3, P7_H, P7_DASH1, P7_DASH2],
  [P8_2, P8_3, P8_8, P8_4UP, P8_4LOW, P8_R1, P8_R2, P8_V1, P8_H1, P8_H2, P8_H3, P8_D1, P8_D2, P8_D3, P8_D4, P8_D5, P8_D6, P8_D7],
];

const X_TICKS = [10, 20, 30, 40, 50, 60, 70, 80, 90, 100, 200, 300, 400, 500, 600, 700, 800, 900, 1000];
const X_LABELED = [10, 100, 1000];
const Y_TICKS = [0.00001, 0.0001, 0.001, 0.01, 0.1, 1];
const Y_TICK_TEXT = ['0.00001', '0.0001', '0.001', '0.01', '0.1', '1'];
const Y_TITLE = 'Penetration [-]';
const X_TITLE = 'diameter[nm]';

/* ================= LAYOUT ================= */
type Cfg = { box: number[]; plot: number[]; xLab: number; diam: number[]; title: number[]; labels: [string, number, number][] };
const PANELS: Cfg[] = [
  { box: [29.5, 21, 583.5, 357], plot: [129, 44, 557, 313], xLab: 29, diam: [444, 343], title: [48, 182],
    labels: [['8', 339, 103], ['7', 239, 132], ['2', 293, 142], ['9', 383, 143], ['10', 243, 213], ['6', 304, 277]] },
  { box: [599.5, 21, 1153, 357], plot: [699, 42.5, 1127, 315], xLab: 28, diam: [1017, 333], title: [616, 182],
    labels: [['2', 834, 82], ['8', 772, 140], ['3', 752, 160], ['10', 738, 205], ['5', 804, 262], ['4', 752, 283], ['7&6', 945, 288], ['8', 1039, 143]] },
  { box: [29.5, 367.5, 583.5, 702.5], plot: [129, 386, 557, 659], xLab: 27, diam: [444, 687], title: [48, 527],
    labels: [['8', 239, 458], ['9', 423, 448], ['2', 369, 477], ['10', 404, 505], ['7', 409, 567], ['6', 291, 580]] },
  { box: [599.5, 367.5, 1153, 702.5], plot: [699, 386, 1127, 659], xLab: 27, diam: [1014, 687], title: [617, 527],
    labels: [['2', 815, 437], ['8', 973, 432], ['3', 812, 493], ['10', 723, 507], ['5', 731, 538], ['4', 731, 570], ['9', 731, 600], ['6', 764, 639], ['6', 894, 587], ['1', 930, 647]] },
  { box: [29.5, 711, 583.5, 1046], plot: [129, 729.5, 557, 1003], xLab: 27, diam: [444, 1030], title: [49, 871],
    labels: [['7', 199, 842], ['8', 259, 823], ['9', 425, 830], ['3', 259, 849], ['10', 290, 918], ['6', 327, 965]] },
  { box: [599.5, 711, 1153, 1046], plot: [699, 727, 1127, 1002], xLab: 27, diam: [1013, 1029], title: [617, 869],
    labels: [['3', 750, 852], ['8', 948, 833], ['2', 911, 902], ['5', 949, 913], ['5', 786, 952], ['7', 891, 975]] },
  { box: [29.5, 1051, 583.5, 1389], plot: [129, 1067, 557, 1347], xLab: 28, diam: [444, 1375], title: [49, 1214],
    labels: [['8', 239, 1140], ['9', 425, 1166], ['7', 218, 1180], ['3', 436, 1201], ['10', 226, 1233], ['2', 288, 1278], ['6', 342, 1303]] },
  { box: [599.5, 1051, 1153, 1389], plot: [699, 1071, 1127, 1347], xLab: 28, diam: [1013, 1375], title: [617, 1214],
    labels: [['2', 778, 1118], ['3', 771, 1150], ['8', 782, 1178], ['4', 899, 1158], ['4', 778, 1211]] },
];

const FONT = 'Arial, "Liberation Sans", Helvetica, sans-serif';
const Y_AXIS_W = 80;
const X_AXIS_H = 40;

const makeXTick = (labelDy: number) => (props: any) => {
  const { x, y, payload } = props;
  const v = payload.value;
  return (
    <g>
      <line x1={x} x2={x} y1={y - 4} y2={y + 5} stroke="#000" strokeWidth={1.2} />
      {X_LABELED.indexOf(v) >= 0 ? (
        <text x={x} y={y + labelDy} textAnchor="middle" dominantBaseline="central" fontSize={18} fontFamily={FONT} fill="#000">
          {String(v)}
        </text>
      ) : null}
    </g>
  );
};

const yFmt = (v: number) => {
  const i = Y_TICKS.findIndex((t) => Math.abs(Math.log10(t) - Math.log10(v)) < 0.01);
  return i >= 0 ? Y_TICK_TEXT[i] : '';
};

function Panel({ cfg, curves }: { cfg: Cfg; curves: Pair[][] }) {
  const [bl, bt, br, bb] = cfg.box;
  const [pl, pt, pr, pb] = cfg.plot;
  const w = br - bl;
  const h = bb - bt;
  return (
    <div style={{ position: 'absolute', left: bl, top: bt, width: w, height: h }}>
      <LineChart width={w} height={h}
        margin={{ left: pl - bl - Y_AXIS_W, top: pt - bt, right: br - pr, bottom: bb - pb - X_AXIS_H }}>
        <XAxis type="number" dataKey="d" scale="log" domain={[10, 1000]} ticks={X_TICKS} interval={0}
          height={X_AXIS_H} tickSize={0} tickMargin={0} tickLine={false}
          axisLine={{ stroke: '#000', strokeWidth: 1.5 }} tick={makeXTick(cfg.xLab)} allowDataOverflow />
        <YAxis type="number" dataKey="p" scale="log" domain={[0.00001, 1]} ticks={Y_TICKS} interval={0}
          width={Y_AXIS_W} tickSize={6} tickMargin={12} tickLine={{ stroke: '#000', strokeWidth: 1.2 }}
          axisLine={{ stroke: '#000', strokeWidth: 1.5 }} tickFormatter={yFmt}
          tick={{ fontSize: 18, fill: '#000', fontFamily: FONT }} allowDataOverflow />
        <ReferenceLine y={1} stroke="#333" strokeWidth={1} />
        <ReferenceLine x={1000} stroke="#333" strokeWidth={1} />
        {curves.map((c, i) => (
          <Line key={i} data={c.map(([d, p]) => ({ d, p }))} dataKey="p" type="linear" stroke="#000"
            strokeWidth={1.45} dot={false} activeDot={false} isAnimationActive={false} />
        ))}
      </LineChart>
    </div>
  );
}

export default function App() {
  return (
    <div style={{ position: 'absolute', left: 0, top: 0, width: 1179, height: 1401, background: '#fff', overflow: 'hidden' }}>
      {PANELS.map((cfg, i) => (
        <Panel key={i} cfg={cfg} curves={CURVES[i]} />
      ))}
      <svg width={1179} height={1401} style={{ position: 'absolute', left: 0, top: 0, pointerEvents: 'none' }}>
        <rect x={4.75} y={4.5} width={1173} height={1430} fill="none" stroke="#000" strokeWidth={1.5} />
        {PANELS.map((cfg, i) => {
          const [bl, bt, br, bb] = cfg.box;
          return (
            <g key={i}>
              <rect x={bl} y={bt} width={br - bl} height={bb - bt} fill="none" stroke="#000" strokeWidth={1.5} />
              <text x={cfg.title[0]} y={cfg.title[1]} transform={`rotate(-90 ${cfg.title[0]} ${cfg.title[1]})`}
                textAnchor="middle" dominantBaseline="central" fontSize={19} fontWeight="bold" fontFamily={FONT} fill="#000">
                {Y_TITLE}
              </text>
              <text x={cfg.diam[0]} y={cfg.diam[1]} textAnchor="middle" dominantBaseline="central" fontSize={18} fontFamily={FONT} fill="#000">
                {X_TITLE}
              </text>
              {cfg.labels.map(([t, x, y], j) => (
                <text key={j} x={x} y={y} textAnchor="middle" dominantBaseline="central" fontSize={23} fontWeight="bold" fontFamily={FONT} fill="#000">
                  {t}
                </text>
              ))}
            </g>
          );
        })}
        <path d="M 740 494 Q 749 494 749 504 L 749 593 Q 749 603 740 603" fill="none" stroke="#000" strokeWidth={1.3} />
      </svg>
    </div>
  );
}
